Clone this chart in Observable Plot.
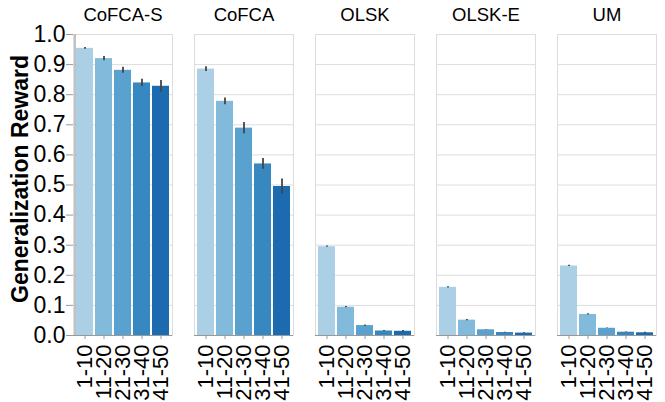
<!DOCTYPE html>
<html>
<head>
<meta charset="utf-8">
<script src="https://cdn.jsdelivr.net/npm/d3@7"></script>
<script src="https://cdn.jsdelivr.net/npm/@observablehq/plot@0.6"></script>
<style>
  html, body { margin: 0; padding: 0; background: #fff; }
</style>
</head>
<body>
<div id="chart"></div>
<script>
const methods = ["CoFCA-S", "CoFCA", "OLSK", "OLSK-E", "UM"];
const bins = ["1-10", "11-20", "21-30", "31-40", "41-50"];
const colors = ["#abd0e6", "#82badb", "#59a1cf", "#3787c0", "#1c6aaf"];
const yTicks = [0, 0.1, 0.2, 0.3, 0.4, 0.5, 0.6, 0.7, 0.8, 0.9, 1.0];

const cofcaS = [0.954, 0.920, 0.881, 0.839, 0.828];
const cofca  = [0.885, 0.778, 0.689, 0.570, 0.495];
const olsk   = [0.295, 0.094, 0.033, 0.015, 0.014];
const olskE  = [0.160, 0.051, 0.019, 0.010, 0.008];
const um     = [0.231, 0.070, 0.024, 0.011, 0.009];

const cofcaSErr = [0.003, 0.007, 0.010, 0.012, 0.019];
const cofcaErr  = [0.008, 0.011, 0.019, 0.018, 0.025];
const olskErr   = [0.002, 0.002, 0.002, 0.002, 0.003];
const olskEErr  = [0.002, 0.002, 0.001, 0.001, 0.001];
const umErr     = [0.002, 0.002, 0.001, 0.001, 0.002];

const seriesVals = [cofcaS, cofca, olsk, olskE, um];
const seriesErrs = [cofcaSErr, cofcaErr, olskErr, olskEErr, umErr];

const data = [];
methods.forEach((m, i) => {
  bins.forEach((b, j) => {
    data.push({method: m, bin: b, value: seriesVals[i][j], err: seriesErrs[i][j]});
  });
});

const chart = Plot.plot({
  width: 665,
  height: 402,
  marginLeft: 71,
  marginRight: 6,
  marginTop: 34,
  marginBottom: 67,
  style: {fontFamily: "'Liberation Sans', Arial, Helvetica, sans-serif", background: "#fff"},
  fx: {domain: methods, paddingInner: 0.18, paddingOuter: 0, label: null},
  x: {domain: bins, paddingInner: 0.1, paddingOuter: 0.05, label: null},
  y: {domain: [0, 1], label: null},
  color: {domain: bins, range: colors},
  marks: [
    Plot.gridY(yTicks, {stroke: "#dddddd", strokeOpacity: 1, strokeWidth: 1}),
    Plot.frame({stroke: "#dddddd", strokeWidth: 1}),
    Plot.barY(data, {x: "bin", y: "value", fx: "method", fill: "bin"}),
    Plot.ruleX(data, {x: "bin", fx: "method", y1: d => d.value - d.err, y2: d => d.value + d.err, stroke: "#444", strokeWidth: 1.8}),
    Plot.ruleY([0], {stroke: "#999", strokeWidth: 1.2}),
    Plot.ruleX([bins[0]], {x: d => d, fx: () => methods[0], y1: 0, y2: 1, dx: -10, stroke: "#999", strokeWidth: 1.2}),
    Plot.axisFx({anchor: "top", label: null, tickSize: 0, tickPadding: 14, fontSize: 18.5}),
    Plot.axisX({anchor: "bottom", tickRotate: -90, fontSize: 22, tickSize: 4, tickPadding: 5, stroke: "#999", fill: "black", label: null}),
    Plot.axisY({anchor: "left", ticks: yTicks, tickFormat: d3.format(".1f"), fontSize: 23, tickSize: 7, tickPadding: 1, stroke: "#999", fill: "black", label: null}),
    Plot.text(["Generalization Reward"], {fx: () => methods[0], frameAnchor: "left", textAnchor: "middle", text: d => d, rotate: -90, dx: -53, dy: -6, fontSize: 23, fontWeight: "bold", fill: "black"})
  ]
});

document.getElementById("chart").appendChild(chart);
</script>
</body>
</html>
